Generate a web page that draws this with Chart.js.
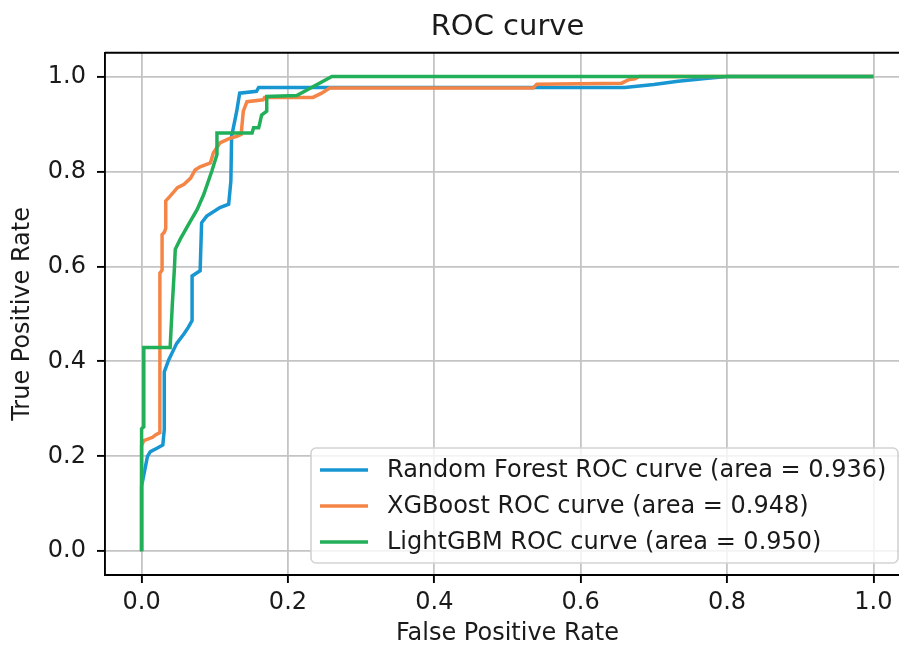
<!DOCTYPE html>
<html>
<head>
<meta charset="utf-8">
<script src="https://cdn.jsdelivr.net/npm/chart.js@4.4.1/dist/chart.umd.min.js"></script>
<style>
  html, body { margin: 0; padding: 0; background: #fff; overflow: hidden; }
  #wrap { width: 910px; height: 648px; }
</style>
</head>
<body>
<div id="wrap"><canvas id="roc"></canvas></div>
<script>
// values
var seriesNames = [
  "Random Forest ROC curve (area = 0.936)",
  "XGBoost ROC curve (area = 0.948)",
  "LightGBM ROC curve (area = 0.950)"
];
var seriesColors = ["#1796d2", "#f58546", "#22af5a"];

var rfFpr = [0, 0, 0.008, 0.012, 0.021, 0.029, 0.031, 0.031, 0.037, 0.048, 0.058, 0.064, 0.069, 0.069, 0.080, 0.082, 0.089, 0.107, 0.119, 0.122, 0.123, 0.130, 0.134, 0.157, 0.160, 0.540, 0.660, 0.700, 0.733, 0.770, 0.800, 1.0];
var rfTpr = [0, 0.137, 0.200, 0.210, 0.217, 0.224, 0.256, 0.378, 0.403, 0.438, 0.458, 0.472, 0.486, 0.580, 0.591, 0.692, 0.706, 0.724, 0.731, 0.780, 0.874, 0.927, 0.965, 0.969, 0.977, 0.977, 0.977, 0.983, 0.990, 0.996, 1.0, 1.0];

var xgbFpr = [0, 0, 0.003, 0.015, 0.019, 0.025, 0.025, 0.028, 0.028, 0.031, 0.033, 0.033, 0.039, 0.049, 0.058, 0.067, 0.073, 0.080, 0.094, 0.098, 0.107, 0.121, 0.130, 0.136, 0.139, 0.144, 0.166, 0.168, 0.234, 0.246, 0.257, 0.535, 0.540, 0.656, 0.665, 0.674, 0.680, 1.0];
var xgbTpr = [0, 0.222, 0.233, 0.240, 0.245, 0.250, 0.586, 0.592, 0.667, 0.672, 0.680, 0.738, 0.748, 0.766, 0.773, 0.786, 0.803, 0.810, 0.818, 0.839, 0.860, 0.870, 0.874, 0.878, 0.927, 0.947, 0.951, 0.956, 0.956, 0.965, 0.976, 0.976, 0.984, 0.986, 0.993, 0.995, 1.0, 1.0];

var lgbFpr = [0, 0, 0.003, 0.003, 0.039, 0.042, 0.045, 0.046, 0.053, 0.064, 0.076, 0.085, 0.096, 0.103, 0.103, 0.151, 0.153, 0.160, 0.162, 0.164, 0.171, 0.171, 0.212, 0.260, 1.0];
var lgbTpr = [0, 0.258, 0.262, 0.429, 0.429, 0.520, 0.600, 0.636, 0.658, 0.688, 0.720, 0.752, 0.801, 0.836, 0.881, 0.881, 0.892, 0.892, 0.905, 0.919, 0.927, 0.958, 0.960, 1.0, 1.0];

var xTicks = [0, 0.2, 0.4, 0.6, 0.8, 1.0];
var yTicks = [0, 0.2, 0.4, 0.6, 0.8, 1.0];

var FONT = '"DejaVu Sans", sans-serif';
var TXT = "#1a1a1a";
var FS = 24;

function toPoints(xs, ys) {
  var pts = [];
  for (var i = 0; i < xs.length; i++) pts.push({ x: xs[i], y: ys[i] });
  return pts;
}

var fprs = [rfFpr, xgbFpr, lgbFpr];
var tprs = [rfTpr, xgbTpr, lgbTpr];
var datasets = [];
for (var i = 0; i < seriesNames.length; i++) {
  datasets.push({
    label: seriesNames[i],
    data: toPoints(fprs[i], tprs[i]),
    borderColor: seriesColors[i],
    backgroundColor: seriesColors[i],
    borderWidth: 3.5,
    pointRadius: 0,
    tension: 0,
    fill: false,
    order: seriesNames.length - i
  });
}

// top spine (chart.js only draws the left/bottom axis borders)
var frame = {
  id: "frame",
  afterDatasetsDraw: function (chart) {
    var a = chart.chartArea, ctx = chart.ctx;
    ctx.save();
    ctx.strokeStyle = "#000";
    ctx.lineWidth = 1.9;
    ctx.beginPath();
    ctx.moveTo(a.left, a.top);
    ctx.lineTo(a.right, a.top);
    ctx.lineTo(a.right, a.bottom);
    ctx.stroke();
    ctx.restore();
  }
};

// matplotlib style legend box in the lower right
var boxLegend = {
  id: "boxLegend",
  afterDraw: function (chart) {
    var ctx = chart.ctx;
    var left = 311, top = 448, right = 898, bottom = 563, r = 5;
    ctx.save();
    ctx.beginPath();
    ctx.moveTo(left + r, top);
    ctx.arcTo(right, top, right, bottom, r);
    ctx.arcTo(right, bottom, left, bottom, r);
    ctx.arcTo(left, bottom, left, top, r);
    ctx.arcTo(left, top, right, top, r);
    ctx.closePath();
    ctx.fillStyle = "rgba(255,255,255,0.8)";
    ctx.fill();
    ctx.strokeStyle = "#d3d3d3";
    ctx.lineWidth = 1.6;
    ctx.stroke();

    ctx.font = FS + "px " + FONT;
    ctx.textBaseline = "middle";
    ctx.textAlign = "left";
    chart.data.datasets.forEach(function (ds, k) {
      var y = top + 22 + k * 36;
      ctx.strokeStyle = ds.borderColor;
      ctx.lineWidth = 3.5;
      ctx.beginPath();
      ctx.moveTo(320, y);
      ctx.lineTo(368, y);
      ctx.stroke();
      ctx.fillStyle = TXT;
      ctx.fillText(ds.label, 387, y + 1);
    });
    ctx.restore();
  }
};

var ctx = document.getElementById("roc");
var rocChart = new Chart(ctx, {
  type: "line",
  data: { datasets: datasets },
  plugins: [frame, boxLegend],
  options: {
    responsive: true,
    maintainAspectRatio: false,
    animation: false,
    layout: { padding: 0 },
    plugins: {
      legend: { display: false },
      tooltip: { enabled: false },
      title: {
        display: true,
        fullSize: false,
        text: "ROC curve",
        color: TXT,
        font: { family: FONT, size: 29, weight: "normal" },
        padding: { top: 10, bottom: 8 }
      }
    },
    scales: {
      x: {
        type: "linear",
        min: -0.05,
        max: 1.05,
        afterBuildTicks: function (scale) {
          scale.ticks = xTicks.map(function (v) { return { value: v }; });
        },
        afterFit: function (scale) { scale.height = 73; },
        ticks: {
          color: TXT,
          font: { family: FONT, size: FS },
          padding: 5,
          maxRotation: 0,
          callback: function (v) { return Number(v).toFixed(1); }
        },
        grid: {
          color: "#c4c4c4",
          lineWidth: 1.8,
          tickColor: "#000",
          tickLength: 8,
          tickWidth: 1.9
        },
        border: { display: true, color: "#000", width: 1.9 },
        title: {
          display: true,
          text: "False Positive Rate",
          color: TXT,
          font: { family: FONT, size: FS },
          padding: { top: 0, bottom: 0 }
        }
      },
      y: {
        type: "linear",
        min: -0.05,
        max: 1.05,
        afterBuildTicks: function (scale) {
          scale.ticks = yTicks.map(function (v) { return { value: v }; });
        },
        afterFit: function (scale) { scale.width = 105; },
        ticks: {
          color: TXT,
          font: { family: FONT, size: FS },
          padding: 11,
          callback: function (v) { return Number(v).toFixed(1); }
        },
        grid: {
          color: "#c4c4c4",
          lineWidth: 1.8,
          tickColor: "#000",
          tickLength: 8,
          tickWidth: 1.9
        },
        border: { display: true, color: "#000", width: 1.9 },
        title: {
          display: true,
          text: "True Positive Rate",
          color: TXT,
          font: { family: FONT, size: FS },
          padding: { top: 8, bottom: 0 }
        }
      }
    }
  }
});
</script>
</body>
</html>
